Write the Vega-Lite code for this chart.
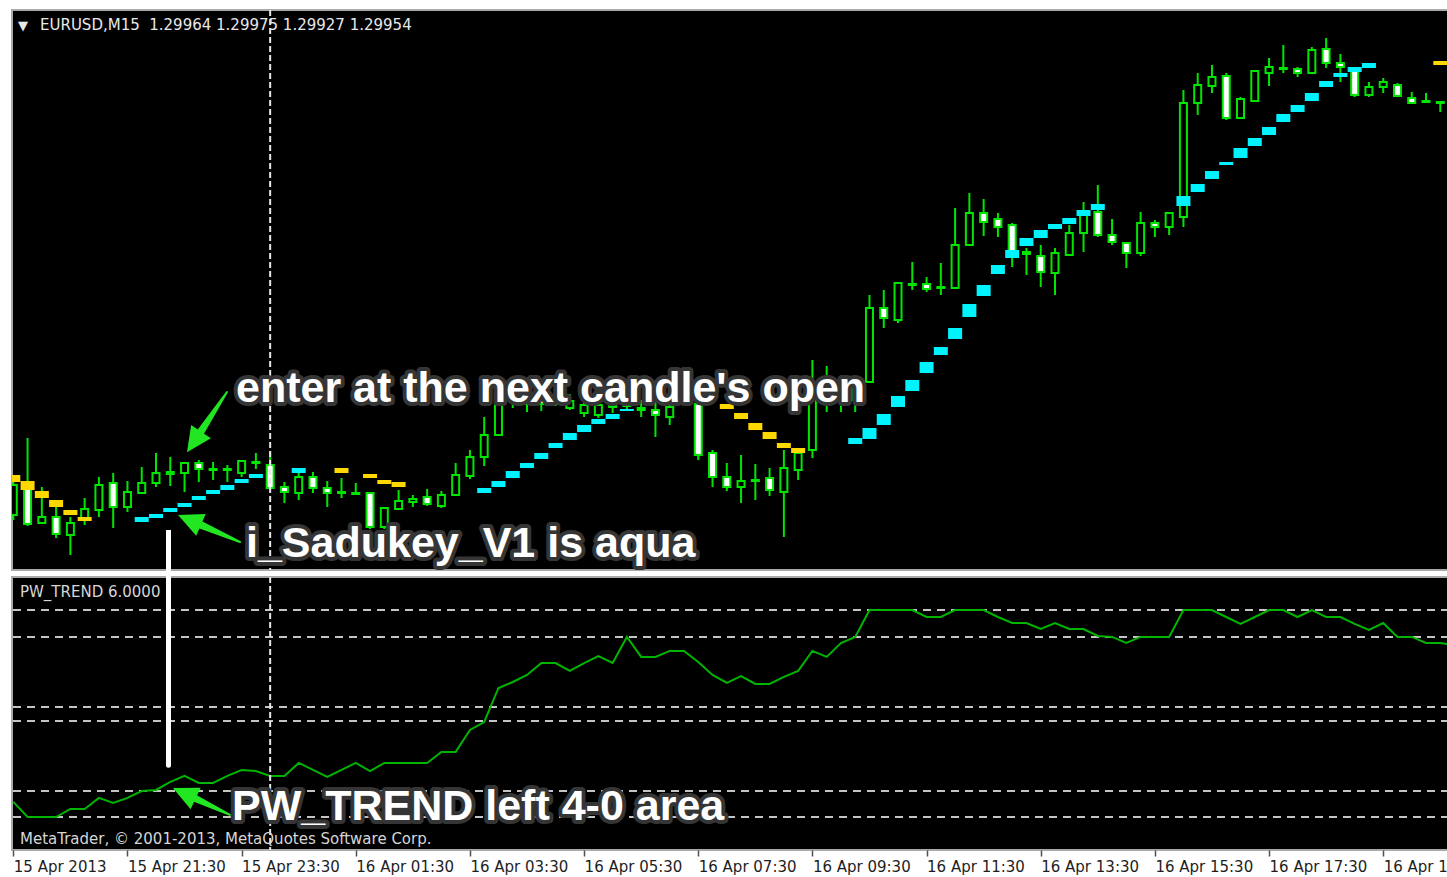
{
  "$schema": "https://vega.github.io/schema/vega-lite/v6.json",
  "background": "white",
  "padding": {"left": 10, "top": 8, "right": 0, "bottom": 29},
  "spacing": 7,
  "bounds": "flush",
  "config": {
    "view": {"fill": "black", "stroke": "#a9a9a9", "strokeWidth": 2},
    "axis": {"grid": false},
    "axisX": {"labelAlign": "left", "labelDx": -2, "labelFont": "DejaVu Sans", "labelFontSize": 15, "labelColor": "#1e1e1e", "labelPadding": 3, "labelFlush": false, "labelOverlap": false, "labelBound": false, "tickColor": "#505050", "tickSize": 6, "tickWidth": 1.5, "domain": false, "grid": false},
    "scale": {"continuousPadding": 0}
  },
  "resolve": {"scale": {"x": "independent", "y": "independent"}},
  "datasets": {
    "bars": [
      {"t":"2013-04-15T19:30:00Z","o":1.29545,"h":1.29580,"l":1.29540,"c":1.29575,"pw":-7.65,"s1":1.29585,"s2":1.29578,"sd":"down"},
      {"t":"2013-04-15T19:45:00Z","o":1.29578,"h":1.29622,"l":1.29534,"c":1.29536,"pw":-8.96,"s1":1.29579,"s2":1.29570,"sd":"down"},
      {"t":"2013-04-15T20:00:00Z","o":1.29537,"h":1.29573,"l":1.29536,"c":1.29543,"pw":-8.96,"s1":1.29569,"s2":1.29562,"sd":"down"},
      {"t":"2013-04-15T20:15:00Z","o":1.29543,"h":1.29553,"l":1.29522,"c":1.29526,"pw":-8.96,"s1":1.29560,"s2":1.29553,"sd":"down"},
      {"t":"2013-04-15T20:30:00Z","o":1.29525,"h":1.29543,"l":1.29505,"c":1.29537,"pw":-8.26,"s1":1.29550,"s2":1.29545,"sd":"down"},
      {"t":"2013-04-15T20:45:00Z","o":1.29542,"h":1.29562,"l":1.29535,"c":1.29551,"pw":-8.26,"s1":1.29543,"s2":1.29539,"sd":"down"},
      {"t":"2013-04-15T21:00:00Z","o":1.29550,"h":1.29583,"l":1.29543,"c":1.29575,"pw":-7.30},
      {"t":"2013-04-15T21:15:00Z","o":1.29577,"h":1.29587,"l":1.29532,"c":1.29553,"pw":-7.74},
      {"t":"2013-04-15T21:30:00Z","o":1.29553,"h":1.29579,"l":1.29548,"c":1.29568,"pw":-7.30},
      {"t":"2013-04-15T21:45:00Z","o":1.29567,"h":1.29593,"l":1.29566,"c":1.29577,"pw":-6.70,"s1":1.29543,"s2":1.29538,"sd":"up"},
      {"t":"2013-04-15T22:00:00Z","o":1.29577,"h":1.29607,"l":1.29573,"c":1.29587,"pw":-6.61,"s1":1.29546,"s2":1.29542,"sd":"up"},
      {"t":"2013-04-15T22:15:00Z","o":1.29586,"h":1.29603,"l":1.29574,"c":1.29588,"pw":-5.91,"s1":1.29552,"s2":1.29548,"sd":"up"},
      {"t":"2013-04-15T22:30:00Z","o":1.29587,"h":1.29598,"l":1.29568,"c":1.29597,"pw":-5.39,"s1":1.29557,"s2":1.29553,"sd":"up"},
      {"t":"2013-04-15T22:45:00Z","o":1.29597,"h":1.29600,"l":1.29578,"c":1.29591,"pw":-6.00,"s1":1.29564,"s2":1.29560,"sd":"up"},
      {"t":"2013-04-15T23:00:00Z","o":1.29590,"h":1.29598,"l":1.29580,"c":1.29591,"pw":-6.00,"s1":1.29570,"s2":1.29566,"sd":"up"},
      {"t":"2013-04-15T23:15:00Z","o":1.29590,"h":1.29595,"l":1.29578,"c":1.29591,"pw":-5.39,"s1":1.29575,"s2":1.29570,"sd":"up"},
      {"t":"2013-04-15T23:30:00Z","o":1.29587,"h":1.29600,"l":1.29583,"c":1.29599,"pw":-4.87,"s1":1.29581,"s2":1.29577,"sd":"up"},
      {"t":"2013-04-15T23:45:00Z","o":1.29597,"h":1.29607,"l":1.29591,"c":1.29598,"pw":-4.96,"s1":1.29586,"s2":1.29582,"sd":"up"},
      {"t":"2013-04-16T00:00:00Z","o":1.29595,"h":1.29609,"l":1.29570,"c":1.29572,"pw":-5.39},
      {"t":"2013-04-16T00:15:00Z","o":1.29573,"h":1.29578,"l":1.29557,"c":1.29568,"pw":-5.39},
      {"t":"2013-04-16T00:30:00Z","o":1.29567,"h":1.29587,"l":1.29560,"c":1.29583,"pw":-4.26,"s1":1.29592,"s2":1.29587,"sd":"up"},
      {"t":"2013-04-16T00:45:00Z","o":1.29583,"h":1.29588,"l":1.29567,"c":1.29572,"pw":-4.87},
      {"t":"2013-04-16T01:00:00Z","o":1.29572,"h":1.29579,"l":1.29553,"c":1.29567,"pw":-5.48},
      {"t":"2013-04-16T01:15:00Z","o":1.29568,"h":1.29582,"l":1.29562,"c":1.29567,"pw":-4.87,"s1":1.29592,"s2":1.29587,"sd":"down"},
      {"t":"2013-04-16T01:30:00Z","o":1.29567,"h":1.29577,"l":1.29565,"c":1.29566,"pw":-4.26},
      {"t":"2013-04-16T01:45:00Z","o":1.29567,"h":1.29568,"l":1.29531,"c":1.29533,"pw":-4.96,"s1":1.29586,"s2":1.29582,"sd":"down"},
      {"t":"2013-04-16T02:00:00Z","o":1.29533,"h":1.29553,"l":1.29531,"c":1.29552,"pw":-4.26,"s1":1.29580,"s2":1.29576,"sd":"down"},
      {"t":"2013-04-16T02:15:00Z","o":1.29551,"h":1.29570,"l":1.29550,"c":1.29559,"pw":-4.26,"s1":1.29578,"s2":1.29573,"sd":"down"},
      {"t":"2013-04-16T02:30:00Z","o":1.29558,"h":1.29565,"l":1.29553,"c":1.29561,"pw":-4.26},
      {"t":"2013-04-16T02:45:00Z","o":1.29563,"h":1.29571,"l":1.29554,"c":1.29556,"pw":-4.26},
      {"t":"2013-04-16T03:00:00Z","o":1.29554,"h":1.29569,"l":1.29552,"c":1.29565,"pw":-3.30},
      {"t":"2013-04-16T03:15:00Z","o":1.29565,"h":1.29597,"l":1.29564,"c":1.29585,"pw":-3.30},
      {"t":"2013-04-16T03:30:00Z","o":1.29584,"h":1.29610,"l":1.29581,"c":1.29603,"pw":-1.39},
      {"t":"2013-04-16T03:45:00Z","o":1.29603,"h":1.29643,"l":1.29594,"c":1.29625,"pw":-0.70,"s1":1.29572,"s2":1.29567,"sd":"up"},
      {"t":"2013-04-16T04:00:00Z","o":1.29625,"h":1.29668,"l":1.29624,"c":1.29660,"pw":2.26,"s1":1.29579,"s2":1.29573,"sd":"up"},
      {"t":"2013-04-16T04:15:00Z","o":1.29660,"h":1.29676,"l":1.29652,"c":1.29668,"pw":2.78,"s1":1.29589,"s2":1.29582,"sd":"up"},
      {"t":"2013-04-16T04:30:00Z","o":1.29656,"h":1.29672,"l":1.29648,"c":1.29664,"pw":3.39,"s1":1.29597,"s2":1.29592,"sd":"up"},
      {"t":"2013-04-16T04:45:00Z","o":1.29662,"h":1.29670,"l":1.29649,"c":1.29656,"pw":4.43,"s1":1.29607,"s2":1.29601,"sd":"up"},
      {"t":"2013-04-16T05:00:00Z","o":1.29656,"h":1.29668,"l":1.29654,"c":1.29661,"pw":4.43,"s1":1.29617,"s2":1.29612,"sd":"up"},
      {"t":"2013-04-16T05:15:00Z","o":1.29652,"h":1.29666,"l":1.29650,"c":1.29659,"pw":3.74,"s1":1.29627,"s2":1.29620,"sd":"up"},
      {"t":"2013-04-16T05:30:00Z","o":1.29647,"h":1.29662,"l":1.29643,"c":1.29655,"pw":4.43,"s1":1.29635,"s2":1.29628,"sd":"up"},
      {"t":"2013-04-16T05:45:00Z","o":1.29645,"h":1.29661,"l":1.29642,"c":1.29655,"pw":5.04,"s1":1.29641,"s2":1.29636,"sd":"up"},
      {"t":"2013-04-16T06:00:00Z","o":1.29653,"h":1.29662,"l":1.29647,"c":1.29654,"pw":4.43,"s1":1.29646,"s2":1.29641,"sd":"up"},
      {"t":"2013-04-16T06:15:00Z","o":1.29654,"h":1.29663,"l":1.29649,"c":1.29656,"pw":6.70,"s1":1.29651,"s2":1.29649,"sd":"up"},
      {"t":"2013-04-16T06:30:00Z","o":1.29652,"h":1.29660,"l":1.29643,"c":1.29650,"pw":4.96},
      {"t":"2013-04-16T06:45:00Z","o":1.29650,"h":1.29658,"l":1.29623,"c":1.29645,"pw":4.96},
      {"t":"2013-04-16T07:00:00Z","o":1.29643,"h":1.29660,"l":1.29635,"c":1.29653,"pw":5.48},
      {"t":"2013-04-16T07:15:00Z","o":1.29662,"h":1.29668,"l":1.29655,"c":1.29659,"pw":5.48},
      {"t":"2013-04-16T07:30:00Z","o":1.29656,"h":1.29662,"l":1.29600,"c":1.29605,"pw":4.52},
      {"t":"2013-04-16T07:45:00Z","o":1.29607,"h":1.29610,"l":1.29573,"c":1.29583,"pw":3.39},
      {"t":"2013-04-16T08:00:00Z","o":1.29583,"h":1.29597,"l":1.29569,"c":1.29573,"pw":2.70,"s1":1.29656,"s2":1.29651,"sd":"down"},
      {"t":"2013-04-16T08:15:00Z","o":1.29573,"h":1.29605,"l":1.29557,"c":1.29579,"pw":3.30,"s1":1.29647,"s2":1.29641,"sd":"down"},
      {"t":"2013-04-16T08:30:00Z","o":1.29580,"h":1.29596,"l":1.29560,"c":1.29579,"pw":2.61,"s1":1.29637,"s2":1.29630,"sd":"down"},
      {"t":"2013-04-16T08:45:00Z","o":1.29582,"h":1.29592,"l":1.29564,"c":1.29570,"pw":2.61,"s1":1.29628,"s2":1.29621,"sd":"down"},
      {"t":"2013-04-16T09:00:00Z","o":1.29568,"h":1.29610,"l":1.29523,"c":1.29592,"pw":3.22,"s1":1.29617,"s2":1.29612,"sd":"down"},
      {"t":"2013-04-16T09:15:00Z","o":1.29590,"h":1.29610,"l":1.29580,"c":1.29607,"pw":3.74,"s1":1.29612,"s2":1.29607,"sd":"down"},
      {"t":"2013-04-16T09:30:00Z","o":1.29610,"h":1.29700,"l":1.29602,"c":1.29675,"pw":5.48},
      {"t":"2013-04-16T09:45:00Z","o":1.29672,"h":1.29694,"l":1.29648,"c":1.29662,"pw":4.96},
      {"t":"2013-04-16T10:00:00Z","o":1.29662,"h":1.29675,"l":1.29648,"c":1.29667,"pw":6.17},
      {"t":"2013-04-16T10:15:00Z","o":1.29660,"h":1.29680,"l":1.29648,"c":1.29675,"pw":6.70,"s1":1.29622,"s2":1.29616,"sd":"up"},
      {"t":"2013-04-16T10:30:00Z","o":1.29678,"h":1.29765,"l":1.29677,"c":1.29752,"pw":9.04,"s1":1.29632,"s2":1.29621,"sd":"up"},
      {"t":"2013-04-16T10:45:00Z","o":1.29752,"h":1.29770,"l":1.29732,"c":1.29742,"pw":9.04,"s1":1.29646,"s2":1.29635,"sd":"up"},
      {"t":"2013-04-16T11:00:00Z","o":1.29740,"h":1.29778,"l":1.29737,"c":1.29777,"pw":9.04,"s1":1.29664,"s2":1.29653,"sd":"up"},
      {"t":"2013-04-16T11:15:00Z","o":1.29775,"h":1.29798,"l":1.29770,"c":1.29776,"pw":9.04,"s1":1.29680,"s2":1.29669,"sd":"up"},
      {"t":"2013-04-16T11:30:00Z","o":1.29776,"h":1.29783,"l":1.29768,"c":1.29771,"pw":8.43,"s1":1.29698,"s2":1.29687,"sd":"up"},
      {"t":"2013-04-16T11:45:00Z","o":1.29772,"h":1.29797,"l":1.29765,"c":1.29773,"pw":8.43,"s1":1.29713,"s2":1.29705,"sd":"up"},
      {"t":"2013-04-16T12:00:00Z","o":1.29772,"h":1.29852,"l":1.29771,"c":1.29815,"pw":9.04,"s1":1.29732,"s2":1.29721,"sd":"up"},
      {"t":"2013-04-16T12:15:00Z","o":1.29815,"h":1.29867,"l":1.29814,"c":1.29847,"pw":9.04,"s1":1.29756,"s2":1.29743,"sd":"up"},
      {"t":"2013-04-16T12:30:00Z","o":1.29847,"h":1.29861,"l":1.29824,"c":1.29838,"pw":9.04,"s1":1.29775,"s2":1.29764,"sd":"up"},
      {"t":"2013-04-16T12:45:00Z","o":1.29841,"h":1.29847,"l":1.29823,"c":1.29833,"pw":8.43,"s1":1.29795,"s2":1.29786,"sd":"up"},
      {"t":"2013-04-16T13:00:00Z","o":1.29835,"h":1.29837,"l":1.29793,"c":1.29808,"pw":7.91,"s1":1.29810,"s2":1.29802,"sd":"up"},
      {"t":"2013-04-16T13:15:00Z","o":1.29806,"h":1.29812,"l":1.29785,"c":1.29808,"pw":7.91,"s1":1.29822,"s2":1.29814,"sd":"up"},
      {"t":"2013-04-16T13:30:00Z","o":1.29804,"h":1.29815,"l":1.29773,"c":1.29788,"pw":7.39,"s1":1.29830,"s2":1.29822,"sd":"up"},
      {"t":"2013-04-16T13:45:00Z","o":1.29787,"h":1.29812,"l":1.29765,"c":1.29807,"pw":7.91,"s1":1.29836,"s2":1.29831,"sd":"up"},
      {"t":"2013-04-16T14:00:00Z","o":1.29805,"h":1.29835,"l":1.29804,"c":1.29827,"pw":7.39,"s1":1.29842,"s2":1.29836,"sd":"up"},
      {"t":"2013-04-16T14:15:00Z","o":1.29827,"h":1.29858,"l":1.29808,"c":1.29847,"pw":7.39,"s1":1.29850,"s2":1.29844,"sd":"up"},
      {"t":"2013-04-16T14:30:00Z","o":1.29848,"h":1.29875,"l":1.29823,"c":1.29825,"pw":6.78,"s1":1.29856,"s2":1.29850,"sd":"up"},
      {"t":"2013-04-16T14:45:00Z","o":1.29825,"h":1.29841,"l":1.29815,"c":1.29818,"pw":6.70},
      {"t":"2013-04-16T15:00:00Z","o":1.29817,"h":1.29818,"l":1.29792,"c":1.29807,"pw":6.17},
      {"t":"2013-04-16T15:15:00Z","o":1.29807,"h":1.29848,"l":1.29804,"c":1.29837,"pw":6.70},
      {"t":"2013-04-16T15:30:00Z","o":1.29837,"h":1.29840,"l":1.29823,"c":1.29833,"pw":6.70},
      {"t":"2013-04-16T15:45:00Z","o":1.29833,"h":1.29848,"l":1.29825,"c":1.29847,"pw":6.70},
      {"t":"2013-04-16T16:00:00Z","o":1.29843,"h":1.29970,"l":1.29833,"c":1.29957,"pw":9.04,"s1":1.29864,"s2":1.29854,"sd":"up"},
      {"t":"2013-04-16T16:15:00Z","o":1.29957,"h":1.29987,"l":1.29945,"c":1.29975,"pw":9.04,"s1":1.29876,"s2":1.29868,"sd":"up"},
      {"t":"2013-04-16T16:30:00Z","o":1.29974,"h":1.29995,"l":1.29967,"c":1.29983,"pw":9.04,"s1":1.29889,"s2":1.29881,"sd":"up"},
      {"t":"2013-04-16T16:45:00Z","o":1.29984,"h":1.29987,"l":1.29940,"c":1.29942,"pw":8.43,"s1":1.29898,"s2":1.29895,"sd":"up"},
      {"t":"2013-04-16T17:00:00Z","o":1.29942,"h":1.29963,"l":1.29941,"c":1.29961,"pw":7.83,"s1":1.29912,"s2":1.29902,"sd":"up"},
      {"t":"2013-04-16T17:15:00Z","o":1.29959,"h":1.29990,"l":1.29958,"c":1.29989,"pw":8.43,"s1":1.29922,"s2":1.29914,"sd":"up"},
      {"t":"2013-04-16T17:30:00Z","o":1.29987,"h":1.30002,"l":1.29974,"c":1.29993,"pw":9.04,"s1":1.29933,"s2":1.29925,"sd":"up"},
      {"t":"2013-04-16T17:45:00Z","o":1.29991,"h":1.30015,"l":1.29987,"c":1.29992,"pw":9.04,"s1":1.29946,"s2":1.29938,"sd":"up"},
      {"t":"2013-04-16T18:00:00Z","o":1.29991,"h":1.29993,"l":1.29983,"c":1.29987,"pw":8.43,"s1":1.29955,"s2":1.29948,"sd":"up"},
      {"t":"2013-04-16T18:15:00Z","o":1.29987,"h":1.30013,"l":1.29986,"c":1.30010,"pw":9.04,"s1":1.29967,"s2":1.29959,"sd":"up"},
      {"t":"2013-04-16T18:30:00Z","o":1.30011,"h":1.30022,"l":1.29992,"c":1.29997,"pw":8.43,"s1":1.29979,"s2":1.29973,"sd":"up"},
      {"t":"2013-04-16T18:45:00Z","o":1.29997,"h":1.30006,"l":1.29978,"c":1.29993,"pw":8.43,"s1":1.29987,"s2":1.29983,"sd":"up"},
      {"t":"2013-04-16T19:00:00Z","o":1.29990,"h":1.29993,"l":1.29963,"c":1.29965,"pw":7.83,"s1":1.29993,"s2":1.29988,"sd":"up"},
      {"t":"2013-04-16T19:15:00Z","o":1.29965,"h":1.29978,"l":1.29963,"c":1.29973,"pw":7.30,"s1":1.29997,"s2":1.29992,"sd":"up"},
      {"t":"2013-04-16T19:30:00Z","o":1.29973,"h":1.29982,"l":1.29967,"c":1.29978,"pw":7.91},
      {"t":"2013-04-16T19:45:00Z","o":1.29975,"h":1.29977,"l":1.29963,"c":1.29964,"pw":6.70},
      {"t":"2013-04-16T20:00:00Z","o":1.29962,"h":1.29968,"l":1.29956,"c":1.29957,"pw":6.70},
      {"t":"2013-04-16T20:15:00Z","o":1.29958,"h":1.29967,"l":1.29957,"c":1.29959,"pw":6.17},
      {"t":"2013-04-16T20:30:00Z","o":1.29958,"h":1.29958,"l":1.29948,"c":1.29957,"pw":6.17,"s1":1.29999,"s2":1.29995,"sd":"down"},
      {"t":"2013-04-16T20:45:00Z","pw":6.00}
    ],
    "notes": [
      {"id":"tri","t":"2013-04-15T19:34:56Z","p":1.30030,"text":"▼"},
      {"id":"hdr","t":"2013-04-15T19:58:04Z","p":1.30030,"text":"EURUSD,M15\u00a0 1.29964 1.29975 1.29927 1.29954"},
      {"id":"enter","t":"2013-04-15T23:24:06Z","p":1.29658,"text":"enter at the next candle's open"},
      {"id":"sadukey","t":"2013-04-15T23:34:36Z","p":1.29503,"text":"i_Sadukey_V1 is aqua"},
      {"id":"pwlabel","t":"2013-04-15T19:37:02Z","v":10.17,"text":"PW_TREND 6.0000"},
      {"id":"mq","t":"2013-04-15T19:37:02Z","v":-11.30,"text":"MetaTrader, © 2001-2013, MetaQuotes Software Corp."},
      {"id":"pwnote","t":"2013-04-15T23:19:54Z","v":-9.22,"text":"PW_TREND left 4-0 area"}
    ],
    "arrows": [
      {"id":"a1","end":"tail","t":"2013-04-15T23:14:38Z","p":1.29668},
      {"id":"a1","end":"head","t":"2013-04-15T22:39:57Z","p":1.29618},
      {"id":"a2","end":"tail","t":"2013-04-15T23:28:18Z","p":1.29518},
      {"id":"a2","end":"head","t":"2013-04-15T22:35:13Z","p":1.29540},
      {"id":"a3","end":"tail","t":"2013-04-15T23:17:47Z","v":-8.78},
      {"id":"a3","end":"head","t":"2013-04-15T22:29:45Z","v":-6.90}
    ]
  },
  "vconcat": [
    {
      "width": 1437,
      "height": 560,
      "data": {"name": "bars"},
      "layer": [
        {
          "transform": [{"filter": "isValid(datum.o)"}],
          "mark": {"type": "rule", "color": "#00e600", "strokeWidth": 2, "clip": true},
          "encoding": {
            "x": {"field": "t", "type": "temporal", "scale": {"type": "utc", "domain": [1366054118000, 1366144750000], "nice": false, "padding": 0}, "axis": null},
            "y": {"field": "l", "type": "quantitative", "scale": {"domain": [1.2949, 1.3005], "nice": false, "zero": false}, "axis": null},
            "y2": {"field": "h"}
          }
        },
        {
          "transform": [{"filter": "isValid(datum.o)"}],
          "mark": {"type": "bar", "width": 7, "stroke": "#00e600", "strokeWidth": 2, "clip": true},
          "encoding": {
            "x": {"field": "t", "type": "temporal", "scale": {"type": "utc", "domain": [1366054118000, 1366144750000], "nice": false, "padding": 0}, "axis": null},
            "y": {"field": "o", "type": "quantitative", "scale": {"domain": [1.2949, 1.3005], "nice": false, "zero": false}, "axis": null},
            "y2": {"field": "c"},
            "fill": {"condition": {"test": "datum.c > datum.o", "value": "black"}, "value": "white"}
          }
        },
        {
          "transform": [{"filter": "isValid(datum.s1)"}],
          "mark": {"type": "bar", "width": 14, "clip": true},
          "encoding": {
            "x": {"field": "t", "type": "temporal", "scale": {"type": "utc", "domain": [1366054118000, 1366144750000], "nice": false, "padding": 0}, "axis": null},
            "y": {"field": "s1", "type": "quantitative", "scale": {"domain": [1.2949, 1.3005], "nice": false, "zero": false}, "axis": null},
            "y2": {"field": "s2"},
            "color": {"field": "sd", "type": "nominal", "scale": {"domain": ["up", "down"], "range": ["#00f4ff", "#ffd800"]}, "legend": null}
          }
        },
        {
          "data": {"values": [{"t": "2013-04-16T00:00:00Z"}]},
          "mark": {"type": "rule", "color": "#e6e6e6", "strokeWidth": 2, "strokeDash": [6, 3]},
          "encoding": {
            "x": {"field": "t", "type": "temporal", "scale": {"type": "utc", "domain": [1366054118000, 1366144750000], "nice": false, "padding": 0}, "axis": null}
          }
        },
        {
          "data": {"values": [{"t": "2013-04-15T22:13:08Z", "p1": 1.2953, "p2": 1.2947}]},
          "mark": {"type": "rule", "color": "white", "strokeWidth": 5, "clip": false},
          "encoding": {
            "x": {"field": "t", "type": "temporal", "scale": {"type": "utc", "domain": [1366054118000, 1366144750000], "nice": false, "padding": 0}, "axis": null},
            "y": {"field": "p1", "type": "quantitative", "scale": {"domain": [1.2949, 1.3005], "nice": false, "zero": false}, "axis": null},
            "y2": {"field": "p2"}
          }
        },
        {
          "data": {"name": "notes"},
          "transform": [{"filter": "datum.id == 'tri'"}],
          "mark": {"type": "text", "align": "left", "baseline": "alphabetic", "font": "DejaVu Sans", "fontSize": 13, "fill": "#e8e8e8"},
          "encoding": {
            "x": {"field": "t", "type": "temporal", "scale": {"type": "utc", "domain": [1366054118000, 1366144750000], "nice": false, "padding": 0}, "axis": null},
            "y": {"field": "p", "type": "quantitative", "scale": {"domain": [1.2949, 1.3005], "nice": false, "zero": false}, "axis": null},
            "text": {"field": "text"}
          }
        },
        {
          "data": {"name": "notes"},
          "transform": [{"filter": "datum.id == 'hdr'"}],
          "mark": {"type": "text", "align": "left", "baseline": "alphabetic", "font": "DejaVu Sans", "fontSize": 15, "fill": "#e8e8e8"},
          "encoding": {
            "x": {"field": "t", "type": "temporal", "scale": {"type": "utc", "domain": [1366054118000, 1366144750000], "nice": false, "padding": 0}, "axis": null},
            "y": {"field": "p", "type": "quantitative", "scale": {"domain": [1.2949, 1.3005], "nice": false, "zero": false}, "axis": null},
            "text": {"field": "text"}
          }
        },
        {
          "data": {"name": "arrows"},
          "transform": [{"filter": "datum.id == 'a1' || datum.id == 'a2'"}],
          "mark": {"type": "trail", "color": "#22e622"},
          "encoding": {
            "x": {"field": "t", "type": "temporal", "scale": {"type": "utc", "domain": [1366054118000, 1366144750000], "nice": false, "padding": 0}, "axis": null},
            "y": {"field": "p", "type": "quantitative", "scale": {"domain": [1.2949, 1.3005], "nice": false, "zero": false}, "axis": null},
            "size": {"field": "end", "type": "ordinal", "scale": {"domain": ["tail", "head"], "range": [2, 9]}, "legend": null},
            "detail": {"field": "id"}
          }
        },
        {
          "data": {"name": "arrows"},
          "transform": [{"filter": "datum.id == 'a1' && datum.end == 'head'"}],
          "mark": {"type": "point", "shape": "M0,-1L0.95,1L-0.95,1Z", "filled": true, "color": "#22e622", "opacity": 1, "size": 625, "angle": 214},
          "encoding": {
            "x": {"field": "t", "type": "temporal", "scale": {"type": "utc", "domain": [1366054118000, 1366144750000], "nice": false, "padding": 0}, "axis": null},
            "y": {"field": "p", "type": "quantitative", "scale": {"domain": [1.2949, 1.3005], "nice": false, "zero": false}, "axis": null}
          }
        },
        {
          "data": {"name": "arrows"},
          "transform": [{"filter": "datum.id == 'a2' && datum.end == 'head'"}],
          "mark": {"type": "point", "shape": "M0,-1L0.95,1L-0.95,1Z", "filled": true, "color": "#22e622", "opacity": 1, "size": 625, "angle": 293.5},
          "encoding": {
            "x": {"field": "t", "type": "temporal", "scale": {"type": "utc", "domain": [1366054118000, 1366144750000], "nice": false, "padding": 0}, "axis": null},
            "y": {"field": "p", "type": "quantitative", "scale": {"domain": [1.2949, 1.3005], "nice": false, "zero": false}, "axis": null}
          }
        },
        {
          "data": {"name": "notes"},
          "transform": [{"filter": "datum.id == 'enter' || datum.id == 'sadukey'"}],
          "mark": {"type": "text", "align": "left", "baseline": "alphabetic", "font": "Liberation Sans", "fontWeight": "bold", "fontSize": 43, "fill": "#353535", "stroke": "#353535", "strokeWidth": 8, "strokeJoin": "round"},
          "encoding": {
            "x": {"field": "t", "type": "temporal", "scale": {"type": "utc", "domain": [1366054118000, 1366144750000], "nice": false, "padding": 0}, "axis": null},
            "y": {"field": "p", "type": "quantitative", "scale": {"domain": [1.2949, 1.3005], "nice": false, "zero": false}, "axis": null},
            "text": {"field": "text"}
          }
        },
        {
          "data": {"name": "notes"},
          "transform": [{"filter": "datum.id == 'enter' || datum.id == 'sadukey'"}],
          "mark": {"type": "text", "align": "left", "baseline": "alphabetic", "font": "Liberation Sans", "fontWeight": "bold", "fontSize": 43, "fill": "white"},
          "encoding": {
            "x": {"field": "t", "type": "temporal", "scale": {"type": "utc", "domain": [1366054118000, 1366144750000], "nice": false, "padding": 0}, "axis": null},
            "y": {"field": "p", "type": "quantitative", "scale": {"domain": [1.2949, 1.3005], "nice": false, "zero": false}, "axis": null},
            "text": {"field": "text"}
          }
        }
      ]
    },
    {
      "width": 1437,
      "height": 273,
      "data": {"name": "bars"},
      "layer": [
        {
          "data": {"values": [{"lv": 9.04}, {"lv": 6.70}, {"lv": 0.61}, {"lv": -0.61}, {"lv": -6.70}, {"lv": -8.96}]},
          "mark": {"type": "rule", "color": "#c4c4c4", "strokeWidth": 2, "strokeDash": [8, 6]},
          "encoding": {
            "y": {"field": "lv", "type": "quantitative", "scale": {"domain": [-11.83, 11.91], "nice": false, "zero": false}, "axis": null}
          }
        },
        {
          "mark": {"type": "line", "color": "#00b400", "strokeWidth": 2, "clip": true},
          "encoding": {
            "x": {
              "field": "t", "type": "temporal",
              "scale": {"type": "utc", "domain": [1366054118000, 1366144750000], "nice": false, "padding": 0},
              "axis": {
                "values": [1366054200000, 1366061400000, 1366068600000, 1366075800000, 1366083000000, 1366090200000, 1366097400000, 1366104600000, 1366111800000, 1366119000000, 1366126200000, 1366133400000, 1366140600000],
                "labelExpr": "utcFormat(datum.value, '%d %H:%M') == '15 19:30' ? '15 Apr 2013' : utcFormat(datum.value, '%d %b %H:%M')",
                "title": null
              }
            },
            "y": {"field": "pw", "type": "quantitative", "scale": {"domain": [-11.83, 11.91], "nice": false, "zero": false}, "axis": null}
          }
        },
        {
          "data": {"values": [{"t": "2013-04-16T00:00:00Z"}]},
          "mark": {"type": "rule", "color": "#e6e6e6", "strokeWidth": 2, "strokeDash": [6, 3]},
          "encoding": {
            "x": {"field": "t", "type": "temporal", "scale": {"type": "utc", "domain": [1366054118000, 1366144750000], "nice": false, "padding": 0}}
          }
        },
        {
          "data": {"name": "notes"},
          "transform": [{"filter": "datum.id == 'pwlabel' || datum.id == 'mq'"}],
          "mark": {"type": "text", "align": "left", "baseline": "alphabetic", "font": "DejaVu Sans", "fontSize": 15, "fill": "#d6d6d6"},
          "encoding": {
            "x": {"field": "t", "type": "temporal", "scale": {"type": "utc", "domain": [1366054118000, 1366144750000], "nice": false, "padding": 0}},
            "y": {"field": "v", "type": "quantitative", "scale": {"domain": [-11.83, 11.91], "nice": false, "zero": false}, "axis": null},
            "text": {"field": "text"}
          }
        },
        {
          "data": {"values": [{"t": "2013-04-15T22:13:08Z", "v1": 12.6, "v2": -4.45}]},
          "mark": {"type": "rule", "color": "white", "strokeWidth": 5, "strokeCap": "round", "clip": false},
          "encoding": {
            "x": {"field": "t", "type": "temporal", "scale": {"type": "utc", "domain": [1366054118000, 1366144750000], "nice": false, "padding": 0}},
            "y": {"field": "v1", "type": "quantitative", "scale": {"domain": [-11.83, 11.91], "nice": false, "zero": false}, "axis": null},
            "y2": {"field": "v2"}
          }
        },
        {
          "data": {"name": "arrows"},
          "transform": [{"filter": "datum.id == 'a3'"}],
          "mark": {"type": "trail", "color": "#22e622"},
          "encoding": {
            "x": {"field": "t", "type": "temporal", "scale": {"type": "utc", "domain": [1366054118000, 1366144750000], "nice": false, "padding": 0}},
            "y": {"field": "v", "type": "quantitative", "scale": {"domain": [-11.83, 11.91], "nice": false, "zero": false}, "axis": null},
            "size": {"field": "end", "type": "ordinal", "scale": {"domain": ["tail", "head"], "range": [2, 9]}, "legend": null},
            "detail": {"field": "id"}
          }
        },
        {
          "data": {"name": "arrows"},
          "transform": [{"filter": "datum.id == 'a3' && datum.end == 'head'"}],
          "mark": {"type": "point", "shape": "M0,-1L0.95,1L-0.95,1Z", "filled": true, "color": "#22e622", "opacity": 1, "size": 625, "angle": 295},
          "encoding": {
            "x": {"field": "t", "type": "temporal", "scale": {"type": "utc", "domain": [1366054118000, 1366144750000], "nice": false, "padding": 0}},
            "y": {"field": "v", "type": "quantitative", "scale": {"domain": [-11.83, 11.91], "nice": false, "zero": false}, "axis": null}
          }
        },
        {
          "data": {"name": "notes"},
          "transform": [{"filter": "datum.id == 'pwnote'"}],
          "mark": {"type": "text", "align": "left", "baseline": "alphabetic", "font": "Liberation Sans", "fontWeight": "bold", "fontSize": 43, "fill": "#353535", "stroke": "#353535", "strokeWidth": 8, "strokeJoin": "round"},
          "encoding": {
            "x": {"field": "t", "type": "temporal", "scale": {"type": "utc", "domain": [1366054118000, 1366144750000], "nice": false, "padding": 0}},
            "y": {"field": "v", "type": "quantitative", "scale": {"domain": [-11.83, 11.91], "nice": false, "zero": false}, "axis": null},
            "text": {"field": "text"}
          }
        },
        {
          "data": {"name": "notes"},
          "transform": [{"filter": "datum.id == 'pwnote'"}],
          "mark": {"type": "text", "align": "left", "baseline": "alphabetic", "font": "Liberation Sans", "fontWeight": "bold", "fontSize": 43, "fill": "white"},
          "encoding": {
            "x": {"field": "t", "type": "temporal", "scale": {"type": "utc", "domain": [1366054118000, 1366144750000], "nice": false, "padding": 0}},
            "y": {"field": "v", "type": "quantitative", "scale": {"domain": [-11.83, 11.91], "nice": false, "zero": false}, "axis": null},
            "text": {"field": "text"}
          }
        }
      ]
    }
  ]
}
